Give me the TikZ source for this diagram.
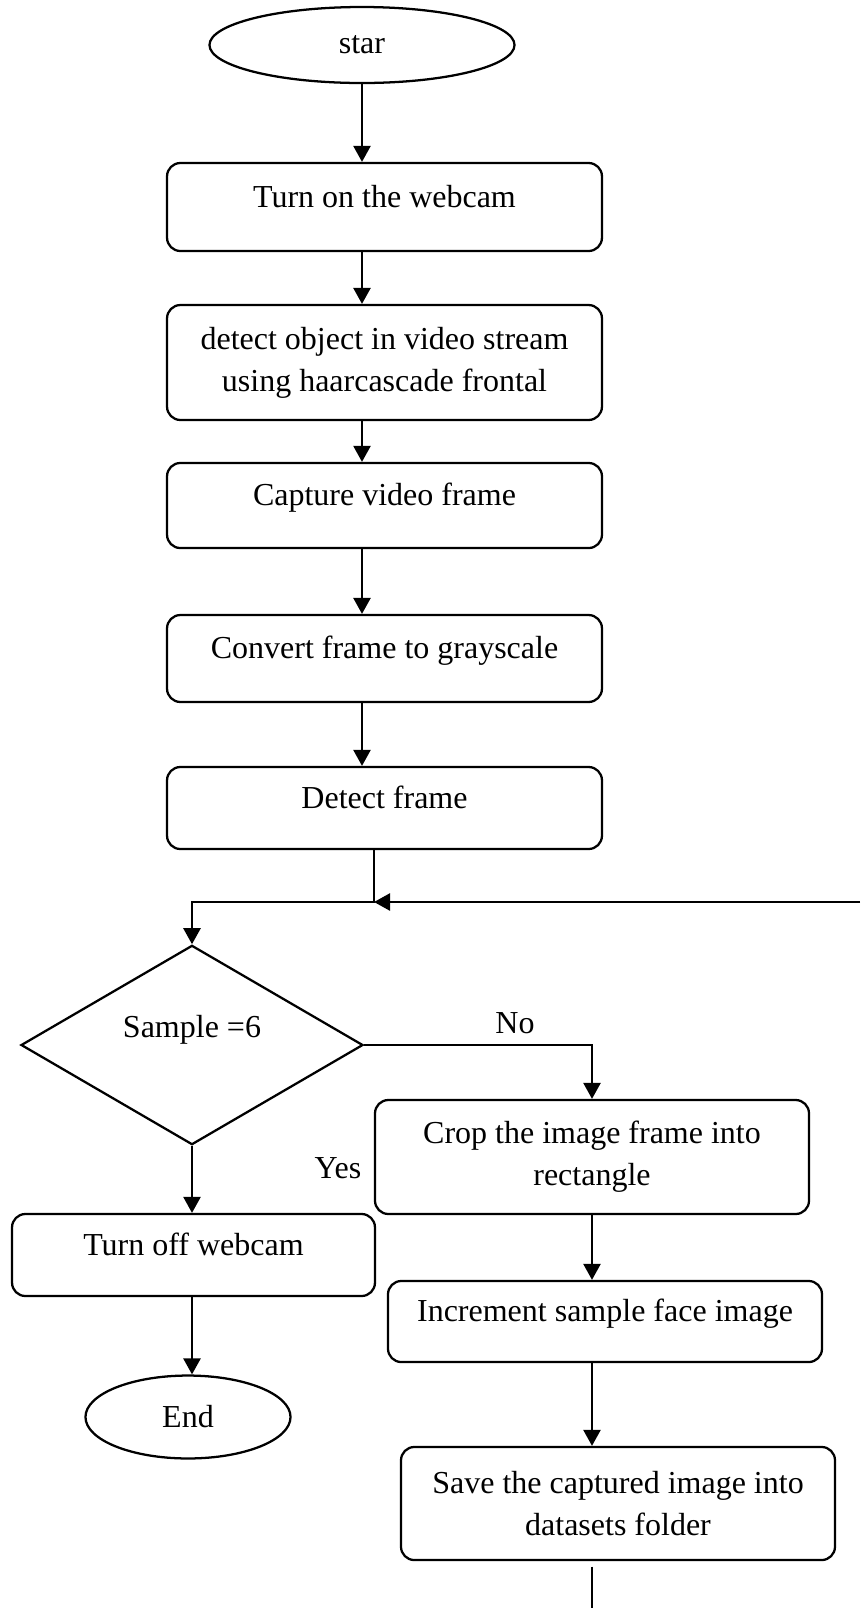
\documentclass[tikz,border=0pt]{standalone}
\usepackage{fontspec}
\setmainfont{Liberation Serif}
\usepackage{tikz}
\usetikzlibrary{shapes.geometric,arrows.meta,positioning}

\tikzset{
  box/.style={draw, line width=0.85pt, rounded corners=5pt, align=center, inner sep=2pt},
  stepbox/.style={box, text height=8.5pt, text depth=8.5pt},
  term/.style={draw, ellipse, line width=0.85pt, inner sep=0pt},
  test/.style={draw, diamond, line width=0.85pt, inner sep=0pt, text height=8.5pt, text depth=14.5pt},
  flow/.style={line width=0.85pt, -{Triangle[length=6pt,width=6.4pt]}},
  link/.style={line width=0.85pt},
}

\begin{document}
\begin{tikzpicture}[x=0.375pt, y=-0.375pt, font=\fontsize{12}{15.75}\selectfont]
\useasboundingbox (0,0) rectangle (860,1608);
%%%%% main column:
\node[term, minimum width=114.4pt, minimum height=28.5pt] (start) at (362,45) {star};
\node[stepbox, minimum width=163.1pt, minimum height=33pt] (on) at (384.5,207) {Turn on the webcam};
\node[box, minimum width=163.1pt, minimum height=43.1pt] (detect) at (384.5,362.5) {detect object in video stream\\using haarcascade frontal};
\node[stepbox, minimum width=163.1pt, minimum height=31.9pt] (capture) at (384.5,505.5) {Capture video frame};
\node[stepbox, minimum width=163.1pt, minimum height=32.6pt] (gray) at (384.5,658.5) {Convert frame to grayscale};
\node[stepbox, minimum width=163.1pt, minimum height=30.75pt] (dframe) at (384.5,808) {Detect frame};
\coordinate (join) at (374,902);
\coordinate (back) at (860,902);
%%%%% decision and the two branches:
\node[test, minimum width=128.25pt, minimum height=66.75pt] (dec) at (192,1045) {Sample =6};
\node[stepbox, minimum width=136.1pt, minimum height=30.75pt] (off) at (193.5,1255) {Turn off webcam};
\node[term, minimum width=76.9pt, minimum height=31.1pt] (stop) at (188,1417) {End};
\node[box, minimum width=162.75pt, minimum height=42.75pt] (crop) at (592,1157) {Crop the image frame into\\rectangle};
\node[stepbox, minimum width=162.75pt, minimum height=30.4pt] (incr) at (605,1321.5) {Increment sample face image};
\node[box, minimum width=162.75pt, minimum height=42.4pt] (save) at (618,1503.5) {Save the captured image into\\datasets folder};
\coordinate (exit) at (592,1608);
\node[inner sep=0pt] (nolbl) at (515,1023) {No};
\node[inner sep=0pt] (yeslbl) at (338,1168) {Yes};

\draw[flow] (start) -- (on.north -| start);
\draw[flow] (on.south -| start) -- (detect.north -| start);
\draw[flow] (detect.south -| start) -- (capture.north -| start);
\draw[flow] (capture.south -| start) -- (gray.north -| start);
\draw[flow] (gray.south -| start) -- (dframe.north -| start);
\draw[flow] (dframe.south -| join) -- (join) -- (join -| dec) -- (dec.north);
\draw[flow] (back) -- (join);
\draw[flow] (dec.east) -- (dec.east -| crop) -- (crop.north);
\draw[flow] (dec.south) -- (off.north -| dec);
\draw[flow] (off.south -| dec) -- (stop.north -| dec);
\draw[flow] (crop.south) -- (incr.north -| crop);
\draw[flow] (incr.south -| crop) -- (save.north -| crop);
\draw[link, shorten <=2pt] (save.south -| crop) -- (exit);
\end{tikzpicture}
\end{document}
